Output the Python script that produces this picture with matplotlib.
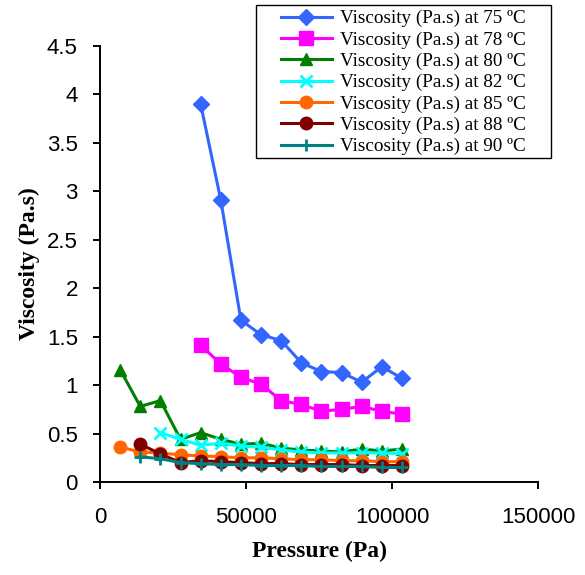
import matplotlib
matplotlib.use("Agg")
import matplotlib.pyplot as plt
from matplotlib.patches import Rectangle

psi = 6894.76

x75 = [kk * psi for kk in range(5, 16)]
y75 = [3.90, 2.91, 1.67, 1.52, 1.46, 1.23, 1.14, 1.13, 1.03, 1.19, 1.07]
x78 = [kk * psi for kk in range(5, 16)]
y78 = [1.41, 1.22, 1.08, 1.01, 0.84, 0.80, 0.73, 0.75, 0.78, 0.73, 0.70]
x80 = [kk * psi for kk in range(1, 16)]
y80 = [1.16, 0.78, 0.84, 0.44, 0.51, 0.44, 0.39, 0.40, 0.35, 0.33, 0.32, 0.31, 0.34, 0.32, 0.34]
x82 = [kk * psi for kk in range(3, 16)]
y82 = [0.51, 0.44, 0.38, 0.40, 0.37, 0.36, 0.33, 0.31, 0.30, 0.30, 0.30, 0.30, 0.29]
x85 = [kk * psi for kk in range(1, 16)]
y85 = [0.36, 0.31, 0.30, 0.28, 0.27, 0.26, 0.25, 0.25, 0.24, 0.23, 0.23, 0.22, 0.22, 0.21, 0.21]
x88 = [kk * psi for kk in range(2, 16)]
y88 = [0.39, 0.29, 0.20, 0.22, 0.21, 0.20, 0.19, 0.19, 0.18, 0.18, 0.18, 0.17, 0.17, 0.17]
x90 = [kk * psi for kk in range(2, 16)]
y90 = [0.26, 0.24, 0.20, 0.19, 0.18, 0.18, 0.17, 0.17, 0.17, 0.16, 0.16, 0.16, 0.15, 0.15]

labels = ["Viscosity (Pa.s) at 75 ºC", "Viscosity (Pa.s) at 78 ºC",
          "Viscosity (Pa.s) at 80 ºC", "Viscosity (Pa.s) at 82 ºC",
          "Viscosity (Pa.s) at 85 ºC", "Viscosity (Pa.s) at 88 ºC",
          "Viscosity (Pa.s) at 90 ºC"]

fig = plt.figure(figsize=(5.85, 5.75), dpi=100)
ax = fig.add_axes([100/585, 1 - 482/575, 438/585, 436/575])

series = [
    (x75, y75, "#3366FF", "D", 8),
    (x78, y78, "#FF00FF", "s", 9.5),
    (x80, y80, "#008000", "^", 9),
    (x82, y82, "#00FFFF", "x", 9),
    (x85, y85, "#FF6600", "o", 9),
    (x88, y88, "#800000", "o", 9),
    (x90, y90, "#008080", "+", 9),
]
for (xs, ys, c, m, ms), lab in zip(series, labels):
    ax.plot(xs, ys, color=c, marker=m, markersize=ms, linewidth=2.2,
            markeredgewidth=2.0 if m in "x+" else 1, label=lab)

ax.set_xlim(0, 150000)
ax.set_ylim(0, 4.5)
ax.set_xticks([0, 50000, 100000, 150000])
ax.set_yticks([0, 0.5, 1, 1.5, 2, 2.5, 3, 3.5, 4, 4.5])
ax.set_yticklabels(["0", "0.5", "1", "1.5", "2", "2.5", "3", "3.5", "4", "4.5"])
for s in ["top", "right"]:
    ax.spines[s].set_visible(False)
for s in ["left", "bottom"]:
    ax.spines[s].set_linewidth(1.4)
ax.tick_params(direction="out", length=5, width=1.4, labelsize=16,
               labelfontfamily="Liberation Sans")
ax.tick_params(axis="x", pad=13)
ax.tick_params(axis="y", pad=11)

ax.set_xlabel("Pressure (Pa)", fontsize=17, fontweight="bold",
              family="Liberation Serif", labelpad=9)
ax.set_ylabel("Viscosity (Pa.s)", fontsize=17, fontweight="bold",
              family="Liberation Serif", labelpad=5)

leg = fig.legend(loc="upper right", bbox_to_anchor=(526/585, 1 - 10/575),
                 prop={"family": "Liberation Serif", "size": 13.8},
                 frameon=False, handlelength=2.7, labelspacing=0.2,
                 borderpad=0, handletextpad=0.4, borderaxespad=0)
fig.add_artist(Rectangle((256/585, 1 - 158/575), 295/585, 153/575,
                         transform=fig.transFigure, fill=False,
                         edgecolor="black", linewidth=1.0))

fig.savefig("out.png", dpi=100)
